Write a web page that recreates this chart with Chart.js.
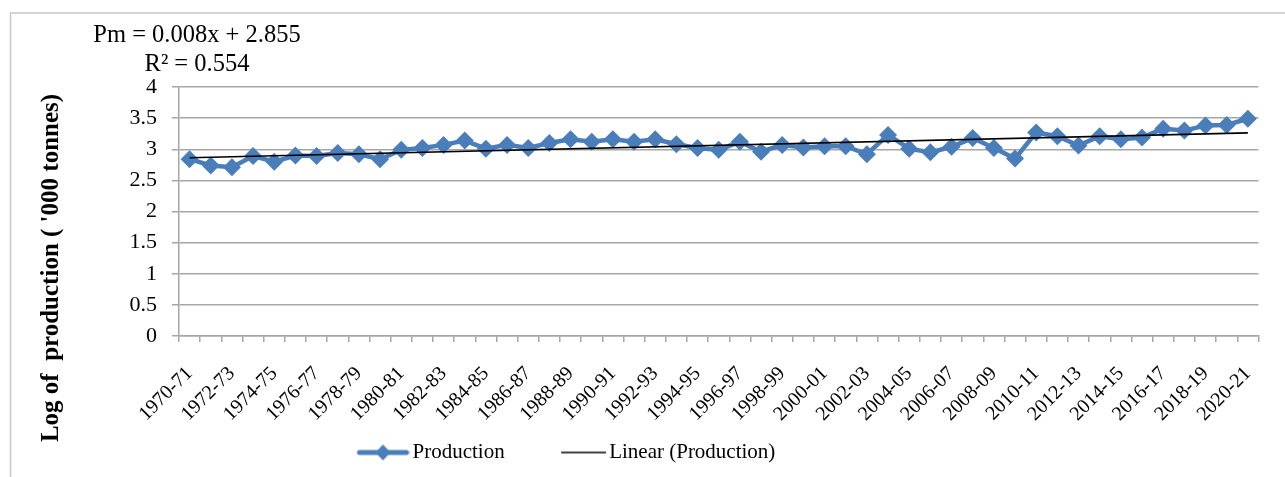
<!DOCTYPE html>
<html>
<head>
<meta charset="utf-8">
<script src="https://cdn.jsdelivr.net/npm/chart.js@4.4.1/dist/chart.umd.min.js"></script>
<style>
  html, body { margin: 0; padding: 0; background: #fff; overflow: hidden; }
  #wrap { width: 1285px; height: 477px; position: relative; }
</style>
</head>
<body>
<div id="wrap"><canvas id="chart" width="1285" height="477"></canvas></div>
<script>
const years = [
    '1970-71', '1971-72', '1972-73', '1973-74', '1974-75', '1975-76', '1976-77', '1977-78', '1978-79', '1979-80',
    '1980-81', '1981-82', '1982-83', '1983-84', '1984-85', '1985-86', '1986-87', '1987-88', '1988-89', '1989-90',
    '1990-91', '1991-92', '1992-93', '1993-94', '1994-95', '1995-96', '1996-97', '1997-98', '1998-99', '1999-00',
    '2000-01', '2001-02', '2002-03', '2003-04', '2004-05', '2005-06', '2006-07', '2007-08', '2008-09', '2009-10',
    '2010-11', '2011-12', '2012-13', '2013-14', '2014-15', '2015-16', '2016-17', '2017-18', '2018-19', '2019-20',
    '2020-21'
];

// log of production ('000 tonnes)
const production = [
    2.84, 2.74, 2.71, 2.89, 2.80, 2.90, 2.89, 2.94, 2.92, 2.84,
    2.99, 3.02, 3.07, 3.14, 3.01, 3.07, 3.02, 3.10, 3.16, 3.12,
    3.16, 3.12, 3.16, 3.08, 3.02, 2.99, 3.12, 2.96, 3.07, 3.03,
    3.05, 3.05, 2.92, 3.23, 3.01, 2.95, 3.04, 3.18, 3.02, 2.85,
    3.27, 3.21, 3.06, 3.21, 3.16, 3.19, 3.33, 3.30, 3.38, 3.39,
    3.49
];

// trend line ends, as drawn
const trendStart = 2.863;
const trendEnd = 3.263;

const yTicks = [0, 0.5, 1, 1.5, 2, 2.5, 3, 3.5, 4];
const equationLines = ['Pm = 0.008x + 2.855', 'R\u00B2 = 0.554'];
const yTitle = "Log of  production ( '000 tonnes)";
const seriesNames = ['Production', 'Linear (Production)'];

const blue = '#4a7ebb';
const gridGrey = '#a6a6a6';
const serif = "'Liberation Serif', 'Times New Roman', serif";

const trend = years.map((y, i) => {
    if (i === 0) return trendStart;
    if (i === years.length - 1) return trendEnd;
    return null;
});

// legend swatch: 55px wide image, line drawn towards the right end
function legendSwatch(withMarker, color, lineWidth, from, to) {
    const c = document.createElement('canvas');
    c.width = 55;
    c.height = 20;
    const g = c.getContext('2d');
    g.strokeStyle = color;
    g.lineWidth = lineWidth;
    g.lineCap = withMarker ? 'round' : 'butt';
    g.beginPath();
    g.moveTo(from, 10);
    g.lineTo(to, 10);
    g.stroke();
    if (withMarker) {
        const cx = (from + to) / 2;
        g.fillStyle = color;
        g.beginPath();
        g.moveTo(cx, 2);
        g.lineTo(cx + 7.5, 10);
        g.lineTo(cx, 18);
        g.lineTo(cx - 7.5, 10);
        g.closePath();
        g.fill();
    }
    return c;
}

const decorations = {
    id: 'decorations',
    afterLayout(chart) {
        // legend sits left of centre in the original
        chart.legend.left = 350;
    },
    beforeDraw(chart) {
        const ctx = chart.ctx;
        ctx.save();
        ctx.fillStyle = '#fff';
        ctx.fillRect(0, 0, chart.width, chart.height);
        ctx.strokeStyle = '#c8c8c8';
        ctx.lineWidth = 1.5;
        ctx.strokeRect(10.5, 13, 1290, 500);
        ctx.restore();
    },
    afterDraw(chart) {
        const ctx = chart.ctx;
        ctx.save();
        ctx.fillStyle = '#000';
        ctx.textAlign = 'center';
        ctx.textBaseline = 'alphabetic';
        ctx.font = '24.5px ' + serif;
        ctx.fillText(equationLines[0], 197, 42);
        ctx.fillText(equationLines[1], 197, 71);

        ctx.translate(52, 268);
        ctx.rotate(-Math.PI / 2);
        ctx.textBaseline = 'middle';
        ctx.font = 'bold 25px ' + serif;
        ctx.fillText(yTitle, 0, 0);
        ctx.restore();
    }
};

const config = {
    type: 'line',
    data: {
        labels: years,
        datasets: [
            {
                label: seriesNames[0],
                data: production,
                borderColor: blue,
                backgroundColor: blue,
                borderWidth: 4.5,
                tension: 0,
                pointStyle: 'rectRot',
                pointRadius: 9,
                pointHoverRadius: 9,
                pointBorderWidth: 0,
                pointBackgroundColor: blue,
                order: 1
            },
            {
                label: seriesNames[1],
                data: trend,
                borderColor: '#000',
                borderWidth: 1.6,
                pointRadius: 0,
                spanGaps: true,
                order: 0
            }
        ]
    },
    plugins: [decorations],
    options: {
        responsive: false,
        animation: false,
        layout: {
            padding: { left: 10, right: 18, top: 87, bottom: 4 }
        },
        scales: {
            x: {
                offset: true,
                grid: {
                    offset: true,
                    drawOnChartArea: false,
                    drawTicks: true,
                    tickLength: 6,
                    color: gridGrey,
                    lineWidth: 1.5
                },
                border: { color: gridGrey, width: 1.5 },
                ticks: {
                    autoSkip: false,
                    maxRotation: 45,
                    minRotation: 45,
                    padding: 20,
                    color: '#000',
                    font: { family: serif, size: 20 },
                    callback: function (value, index) {
                        return index % 2 === 0 ? years[index] : '';
                    }
                },
                afterFit: function (scale) {
                    scale.height = 94;
                }
            },
            y: {
                min: 0,
                max: 4,
                afterBuildTicks: function (scale) {
                    scale.ticks = yTicks.map(v => ({ value: v }));
                },
                grid: {
                    color: gridGrey,
                    lineWidth: 1.5,
                    tickLength: 7
                },
                border: { color: gridGrey, width: 1.5 },
                ticks: {
                    padding: 15,
                    color: '#000',
                    font: { family: serif, size: 22 },
                    callback: function (value) {
                        return String(value);
                    }
                },
                afterFit: function (scale) {
                    scale.width = 169;
                }
            }
        },
        plugins: {
            legend: {
                position: 'bottom',
                align: 'start',
                labels: {
                    usePointStyle: true,
                    pointStyleWidth: 40,
                    padding: 12,
                    color: '#000',
                    font: { family: serif, size: 21 },
                    generateLabels: function (chart) {
                        return [
                            {
                                text: seriesNames[0] + '        ',
                                pointStyle: legendSwatch(true, blue, 5, 5, 52),
                                fontColor: '#000',
                                lineWidth: 0,
                                datasetIndex: 0
                            },
                            {
                                text: seriesNames[1],
                                pointStyle: legendSwatch(false, '#000', 1.6, 10, 55),
                                fontColor: '#000',
                                lineWidth: 0,
                                datasetIndex: 1
                            }
                        ];
                    }
                }
            },
            tooltip: { enabled: false }
        }
    }
};

new Chart(document.getElementById('chart').getContext('2d'), config);
</script>
</body>
</html>
